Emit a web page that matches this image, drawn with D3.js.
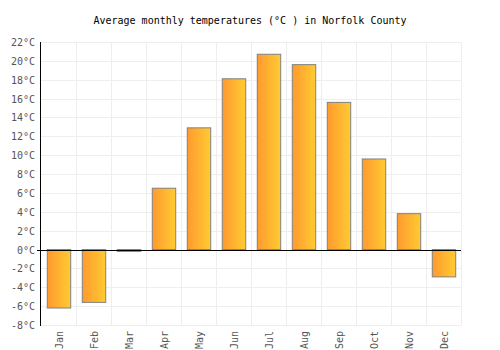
<!DOCTYPE html>
<html>
<head>
<meta charset="utf-8">
<script src="https://cdn.jsdelivr.net/npm/d3@7"></script>
<style>
  body { margin: 0; background: #fff; }
  text { font-family: "DejaVu Sans Mono", monospace; }
</style>
</head>
<body>
<svg id="chart" width="500" height="350"></svg>
<script>
const months = ['Jan','Feb','Mar','Apr','May','Jun','Jul','Aug','Sep','Oct','Nov','Dec'];
const temps = [-6.2, -5.6, -0.2, 6.5, 12.9, 18.1, 20.7, 19.6, 15.6, 9.6, 3.8, -2.9];
const yTicks = [-8, -6, -4, -2, 0, 2, 4, 6, 8, 10, 12, 14, 16, 18, 20, 22];

const plotLeft = 41, plotRight = 461, plotTop = 42, plotBottom = 325;

let svg = d3.select('#chart');

let grad = svg.append('defs').append('linearGradient')
  .attr('id', 'barGrad')
  .attr('x1', '0%').attr('x2', '100%').attr('y1', '0%').attr('y2', '0%');
grad.append('stop').attr('offset', '0%').attr('stop-color', '#ff9a2e');
grad.append('stop').attr('offset', '100%').attr('stop-color', '#ffcb33');

let x = d3.scaleBand().domain(months).range([plotLeft, plotRight]).paddingInner(0.33).paddingOuter(0.165);
let xGrid = d3.scaleLinear().domain([0, 12]).range([plotLeft, plotRight]);
let y = d3.scaleLinear().domain([-8, 22]).range([plotBottom, plotTop]);

// title
svg.append('text')
  .attr('x', 250).attr('y', 24)
  .attr('text-anchor', 'middle')
  .style('font-size', '10px')
  .attr('fill', '#000')
  .text('Average monthly temperatures (°C ) in Norfolk County');

// grid
svg.append('g').selectAll('line')
  .data(yTicks)
  .enter().append('line')
  .attr('x1', plotLeft).attr('x2', plotRight)
  .attr('y1', d => Math.round(y(d)) + 0.5).attr('y2', d => Math.round(y(d)) + 0.5)
  .attr('stroke', '#eeeeee');

svg.append('g').selectAll('line')
  .data(d3.range(1, 13))
  .enter().append('line')
  .attr('x1', d => Math.round(xGrid(d)) + 0.5).attr('x2', d => Math.round(xGrid(d)) + 0.5)
  .attr('y1', plotTop).attr('y2', plotBottom)
  .attr('stroke', '#eeeeee');

// bars
svg.append('g').selectAll('rect')
  .data(temps)
  .enter().append('rect')
  .attr('x', (d, i) => x(months[i]) + 0.5)
  .attr('width', x.bandwidth())
  .attr('y', d => Math.min(y(d), y(0)))
  .attr('height', d => Math.abs(y(d) - y(0)))
  .attr('fill', 'url(#barGrad)')
  .attr('stroke', '#808080')
  .attr('stroke-width', 1);

// zero line and y axis line
svg.append('line')
  .attr('x1', plotLeft - 4).attr('x2', plotRight)
  .attr('y1', Math.round(y(0)) + 0.5).attr('y2', Math.round(y(0)) + 0.5)
  .attr('stroke', '#000');
svg.append('line')
  .attr('x1', plotLeft - 0.5).attr('x2', plotLeft - 0.5)
  .attr('y1', plotTop).attr('y2', plotBottom + 1)
  .attr('stroke', '#000');

// y labels
svg.append('g').selectAll('text')
  .data(yTicks)
  .enter().append('text')
  .attr('x', 35)
  .attr('y', d => y(d) + 4)
  .attr('text-anchor', 'end')
  .style('font-size', '10px')
  .attr('fill', '#555')
  .text(d => d + '°C');

// x labels
svg.append('g').selectAll('text')
  .data(months)
  .enter().append('text')
  .attr('transform', d => `translate(${x(d) + x.bandwidth() / 2 + 4.5}, 331) rotate(-90)`)
  .attr('text-anchor', 'end')
  .style('font-size', '10px')
  .attr('fill', '#555')
  .text(d => d);
</script>
</body>
</html>
